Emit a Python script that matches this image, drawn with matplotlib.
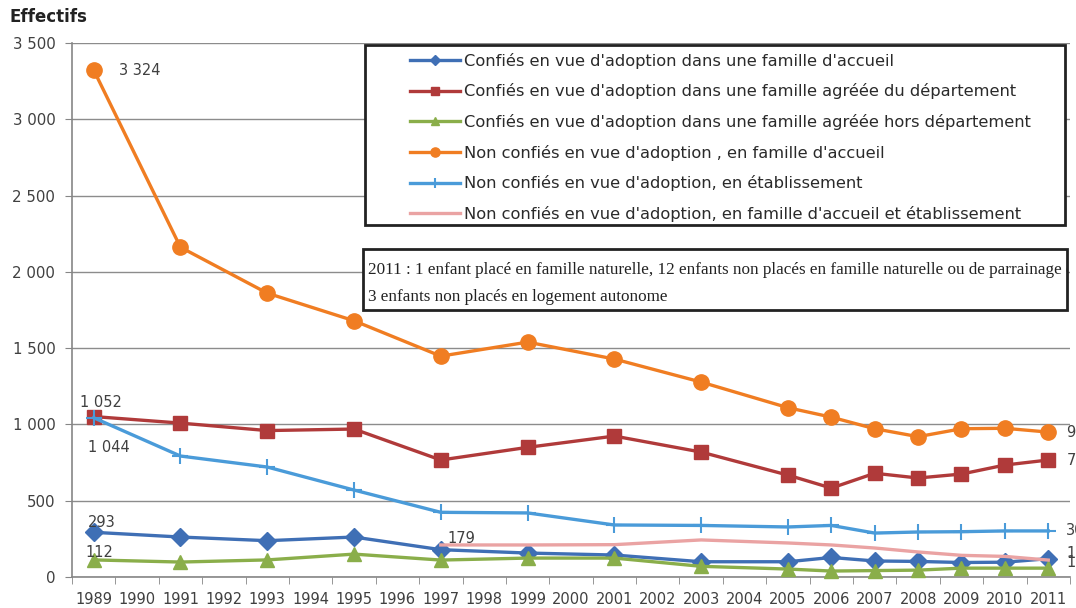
import numpy as np
import matplotlib
matplotlib.use("Agg")
import matplotlib.pyplot as plt
from matplotlib.patches import Rectangle
from matplotlib.ticker import FuncFormatter, FixedLocator

# axis categories (one per year, even where there is no data)
years = list(range(1989, 2012))

# years that carry data
data_years = [1989, 1991, 1993, 1995, 1997, 1999, 2001, 2003, 2005, 2006, 2007, 2008, 2009, 2010, 2011]
pink_years = [1997, 1999, 2001, 2003, 2005, 2006, 2007, 2008, 2009, 2010, 2011]

# values
adopt_accueil = [293, 262, 238, 262, 179, 157, 144, 100, 100, 128, 105, 102, 95, 97, 120]
adopt_dept = [1052, 1009, 960, 970, 767, 850, 924, 819, 668, 583, 680, 649, 675, 734, 767]
adopt_hors_dept = [112, 98, 112, 150, 111, 124, 124, 70, 52, 39, 42, 45, 58, 58, 58]
non_adopt_accueil = [3324, 2162, 1861, 1680, 1448, 1540, 1429, 1278, 1110, 1048, 972, 920, 972, 975, 950]
non_adopt_etab = [1044, 793, 721, 570, 424, 420, 341, 338, 328, 338, 288, 295, 297, 302, 302]
non_adopt_mixte = [210, 210, 212, 243, 223, 210, 190, 164, 142, 135, 111]

labels = [
    "Confiés en vue d'adoption dans une famille d'accueil",
    "Confiés en vue d'adoption dans une famille agréée du département",
    "Confiés en vue d'adoption dans une famille agréée hors département",
    "Non confiés en vue d'adoption , en famille d'accueil",
    "Non confiés en vue d'adoption, en établissement",
    "Non confiés en vue d'adoption, en famille d'accueil et établissement",
]
note_lines = [
    "2011 : 1 enfant placé en famille naturelle, 12 enfants non placés en famille naturelle ou de parrainage et",
    "3 enfants non placés en logement autonome",
]


def fmt(v):
    return f"{int(round(v)):,}".replace(",", " ")


x = [years.index(y) for y in data_years]
xp = [years.index(y) for y in pink_years]

fig = plt.figure(figsize=(10.76, 6.08), dpi=100)
ax = fig.add_axes([0.0669, 0.051, 0.9275, 0.878])

# series: (x, y, colour, marker, markersize, label)
series = [
    (x, adopt_accueil, "#3f6fb5", "D", 9, labels[0]),
    (x, adopt_dept, "#b03a3a", "s", 10, labels[1]),
    (x, adopt_hors_dept, "#8aae4a", "^", 10, labels[2]),
    (x, non_adopt_accueil, "#f07d22", "o", 11, labels[3]),
    (x, non_adopt_etab, "#4a9bd9", "+", 12, labels[4]),
    (xp, non_adopt_mixte, "#eaa3a3", None, 0, labels[5]),
]
lines = []
for sx, sy, col, mk, ms, lab in series:
    ln, = ax.plot(sx, sy, color=col, lw=2.4, marker=mk, markersize=ms,
                  markeredgewidth=1.5 if mk == "+" else 1, markeredgecolor=col,
                  label=lab, zorder=3, clip_on=False)
    lines.append(ln)

# data labels for the first points
lab_kw = dict(textcoords="offset points", fontsize=10.5, color="#404040")
ax.annotate(fmt(non_adopt_accueil[0]), (x[0], non_adopt_accueil[0]), xytext=(18, 0), va="center", **lab_kw)
ax.annotate(fmt(adopt_dept[0]), (x[0], adopt_dept[0]), xytext=(-10, 5), va="bottom", **lab_kw)
ax.annotate(fmt(non_adopt_etab[0]), (x[0], non_adopt_etab[0]), xytext=(-4, -16), va="top", **lab_kw)
ax.annotate(fmt(adopt_accueil[0]), (x[0], adopt_accueil[0]), xytext=(-4, 2), va="bottom", **lab_kw)
ax.annotate(fmt(adopt_hors_dept[0]), (x[0], adopt_hors_dept[0]), xytext=(-6, 0), va="bottom", **lab_kw)
ax.annotate(fmt(adopt_accueil[4]), (x[4], adopt_accueil[4]), xytext=(5, 3), va="bottom", **lab_kw)

# last-point labels, cut off by the right edge of the figure (as in the original)
for sx, sy, off in [(x, non_adopt_accueil, 0), (x, adopt_dept, 0), (x, non_adopt_etab, 0),
                    (xp, non_adopt_mixte, 5), (x, adopt_accueil, -3)]:
    ax.annotate(fmt(sy[-1]), (sx[-1], sy[-1]), xytext=(13, off), va="center",
                annotation_clip=False, **lab_kw)

# axes styling
ax.set_xlim(-0.5, len(years) - 0.5)
ax.set_ylim(0, 3500)
ax.yaxis.set_major_locator(FixedLocator(np.arange(0, 3501, 500)))
ax.yaxis.set_major_formatter(FuncFormatter(lambda v, p: fmt(v)))
ax.set_xticks(range(len(years)))
ax.set_xticklabels([str(y) for y in years])
ax.set_xticks(np.arange(-0.5, len(years)), minor=True)
ax.tick_params(axis="x", which="major", length=0, pad=11, labelsize=10.5, labelcolor="#404040")
ax.tick_params(axis="x", which="minor", length=5, color="#868686", direction="out")
ax.tick_params(axis="y", length=5, color="#868686", labelsize=10.8, labelcolor="#404040", pad=7)
ax.grid(axis="y", color="#8c8c8c", lw=1)
ax.set_axisbelow(True)
for s in ["top", "right"]:
    ax.spines[s].set_visible(False)
for s in ["left", "bottom"]:
    ax.spines[s].set_color("#868686")
    ax.spines[s].set_linewidth(1.2)

# legend box drawn by hand, legend inside without frame
box = Rectangle((0.2936, 0.659), 0.701, 0.337, transform=ax.transAxes, facecolor="white",
                edgecolor="#222222", lw=2, zorder=4)
ax.add_patch(box)
leg = ax.legend(handles=lines, loc="upper left", bbox_to_anchor=(0.3387, 0.982), frameon=False,
                fontsize=11.7, handlelength=3.1, handletextpad=0.2, labelspacing=0.9,
                borderpad=0, borderaxespad=0, markerscale=0.6)
leg.set_zorder(5)
for t in leg.get_texts():
    t.set_color("#2a2a2a")

# note box, text clipped at its right border like in the original
note = Rectangle((0.2916, 0.5), 0.705, 0.114, transform=ax.transAxes, facecolor="white",
                 edgecolor="#222222", lw=2, zorder=4)
ax.add_patch(note)
for i, line in enumerate(note_lines):
    t = ax.text(0.297, 0.576 - i * 0.051, line, transform=ax.transAxes, fontsize=12.3,
                family="Liberation Serif", color="#222222", va="center", zorder=5,
                clip_on=True)
    t.set_clip_path(note)

fig.text(0.009, 0.972, "Effectifs", fontsize=12, fontweight="bold", color="#222222", va="center")

fig.savefig("out.png", dpi=100)
